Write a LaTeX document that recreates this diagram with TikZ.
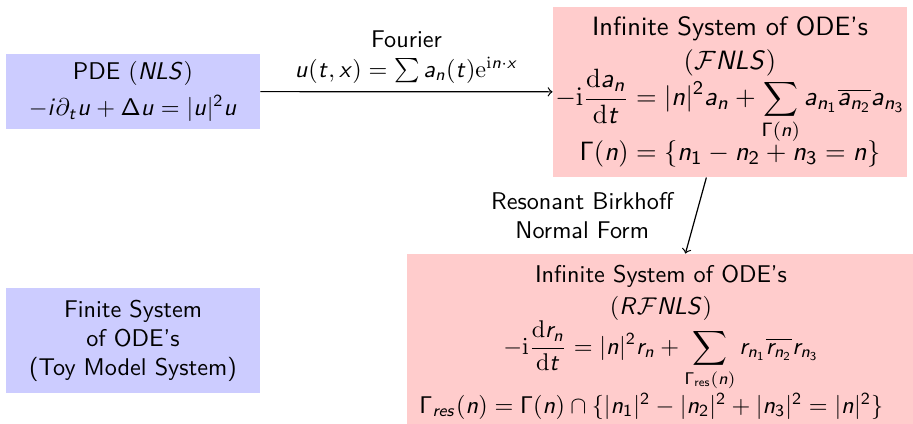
\documentclass[tikz,border=0pt]{standalone}
\usetikzlibrary{arrows}
\DeclareSymbolFont{sfletters}{OT1}{cmss}{m}{sl}
\DeclareSymbolFont{sfupright}{OT1}{cmss}{m}{n}
\newcommand\sfl[1]{\DeclareMathSymbol{#1}{\mathalpha}{sfletters}{`#1}}
\newcommand\sfdg[1]{\DeclareMathSymbol{#1}{\mathalpha}{sfupright}{`#1}}
\sfl a\sfl b\sfl c\sfl d\sfl e\sfl f\sfl g\sfl h\sfl i\sfl j\sfl k\sfl l\sfl m
\sfl n\sfl o\sfl p\sfl q\sfl r\sfl s\sfl t\sfl u\sfl v\sfl w\sfl x\sfl y\sfl z
\sfl L\sfl N\sfl R\sfl S
\sfdg 0\sfdg 1\sfdg 2\sfdg 3\sfdg 4\sfdg 5\sfdg 6\sfdg 7\sfdg 8\sfdg 9
\DeclareMathSymbol{\Gamma}{\mathalpha}{sfupright}{"00}
\DeclareMathSymbol{\Delta}{\mathalpha}{sfupright}{"01}
\definecolor{boxblue}{HTML}{CCCCFF}
\definecolor{boxpink}{HTML}{FFCCCC}
\def\pxu{0.4132pt}
\tikzset{
  bluebox/.style={fill=boxblue, inner sep=0pt, align=center, font=\sffamily},
  pinkbox/.style={fill=boxpink, inner sep=0pt, align=center, font=\sffamily},
  conn/.style={->, black, line width=0.5pt},
  lbl/.style={align=center, font=\sffamily},
}
\begin{document}
\begin{tikzpicture}[x=0.4132pt, y=-0.4132pt]
\useasboundingbox (0,0) rectangle (913,423);
\node[bluebox, minimum width={254*\pxu}, minimum height={75*\pxu}] (pde) at (133,91.5)
  {PDE $(NLS)$\\[3pt] $-i\partial_t u+\Delta u=|u|^2u$};
\node[bluebox, minimum width={254*\pxu}, minimum height={105*\pxu}] (toy) at (133,340.5)
  {Finite System\\ of ODE's\\ (Toy Model System)};
\node[pinkbox, font=\sffamily\fontsize{10.95}{13.6}\selectfont, minimum width={354*\pxu}, minimum height={170*\pxu}] (fnls) at (730,92)
  {Infinite System of ODE's\\[0.5pt] $(\mathcal{F}NLS)$\\[-4pt]
   $\displaystyle -\mathrm{i}\frac{\mathrm{d}a_n}{\mathrm{d}t}=|n|^2a_n+\sum_{\Gamma(n)}a_{n_1}\overline{a_{n_2}}a_{n_3}$\\[-2.5pt]
   $\Gamma(n)=\{n_1-n_2+n_3=n\}$};
\node[pinkbox, font=\sffamily\fontsize{10}{12}\selectfont, minimum width={508*\pxu}, minimum height={176*\pxu}] (rfnls) at (661,342)
  {Infinite System of ODE's\\[1.5pt] $(R\mathcal{F}NLS)$\\[-1pt]
   $\displaystyle -\mathrm{i}\frac{\mathrm{d}r_n}{\mathrm{d}t}=|n|^2r_n+\sum_{\Gamma_{\mathsf{res}}(n)}r_{n_1}\overline{r_{n_2}}r_{n_3}$\\
   \hspace*{-8pt}$\Gamma_{res}(n)=\Gamma(n)\cap\{|n_1|^2-|n_2|^2+|n_3|^2=|n|^2\}$};
\draw[conn] (pde) -- node[lbl, above] {Fourier\\ $u(t,x)=\sum a_n(t)\mathrm{e}^{\mathrm{i}n\cdot x}$} (fnls);
\draw[conn] (fnls) -- node[lbl, left=5.8pt] {Resonant Birkhoff\\ Normal Form} (rfnls);
\end{tikzpicture}
\end{document}
